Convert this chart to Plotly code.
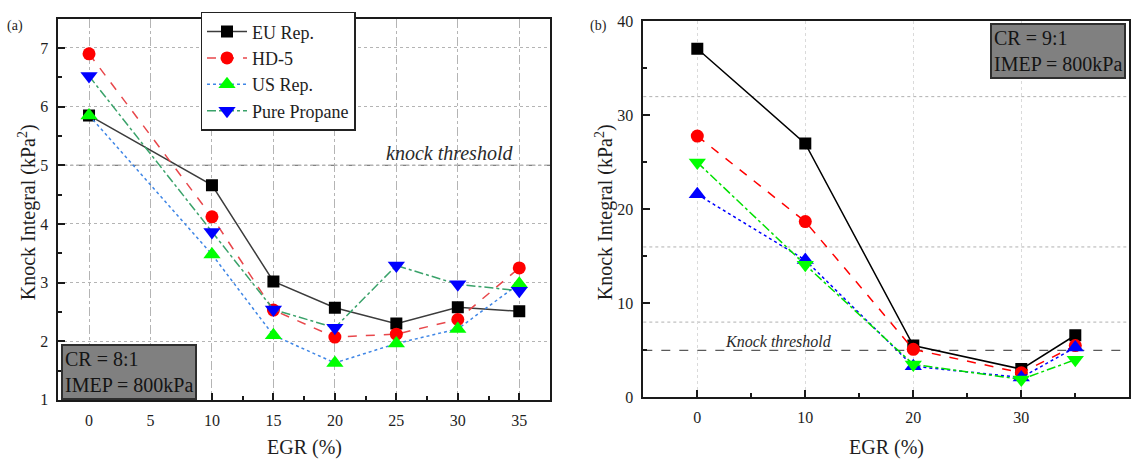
import plotly.graph_objects as go

# ---- data -------------------------------------------------------------
egr_a = [0, 10, 15, 20, 25, 30, 35]
eu_rep_a = [5.85, 4.66, 3.02, 2.57, 2.30, 2.58, 2.51]
hd5_a = [6.90, 4.12, 2.53, 2.07, 2.12, 2.37, 3.25]
us_rep_a = [5.85, 3.48, 2.10, 1.63, 1.96, 2.21, 2.98]
propane_a = [6.52, 3.86, 2.54, 2.23, 3.29, 2.97, 2.86]

egr_b = [0, 10, 20, 30, 35]
eu_rep_b = [37.1, 27.0, 5.5, 3.0, 6.6]
hd5_b = [27.8, 18.7, 5.1, 2.6, 5.5]
us_rep_b = [21.6, 14.6, 3.3, 2.1, 5.3]
propane_b = [25.0, 14.1, 3.5, 1.9, 4.0]

series_names = ["EU Rep.", "HD-5", "US Rep.", "Pure Propane"]
knock_threshold = 5

x_ticks_a = [0, 5, 10, 15, 20, 25, 30, 35]
y_ticks_a = [1, 2, 3, 4, 5, 6, 7]
x_ticks_b = [0, 10, 20, 30, 40]
y_ticks_b = [0, 10, 20, 30, 40]

# ---- styling ----------------------------------------------------------
W, H = 1137, 466
FONT = "'Liberation Serif', 'Times New Roman', Times, serif"
TXT = "#1e1e1e"


def px(x):
    return x / W


def py(y):
    return 1 - y / H


fig = go.Figure()

# panel (a)
style_a = [
    dict(line=dict(color="#3c3c3c", width=1.5, dash="solid"),
         marker=dict(symbol="square", size=12, color="#000000")),
    dict(line=dict(color="#e8474b", width=1.5, dash="dash"),
         marker=dict(symbol="circle", size=13, color="#ff0000")),
    dict(line=dict(color="#3f86e6", width=1.5, dash="dot"),
         marker=dict(symbol="triangle-up", size=15, color="#00ff00")),
    dict(line=dict(color="#3aa26a", width=1.5, dash="dashdot"),
         marker=dict(symbol="triangle-down", size=15, color="#0000ff")),
]
for name, ys, st in zip(series_names, [eu_rep_a, hd5_a, us_rep_a, propane_a], style_a):
    fig.add_trace(go.Scatter(x=egr_a, y=ys, name=name, mode="lines+markers",
                             xaxis="x", yaxis="y", **st))

# panel (b)
style_b = [
    dict(line=dict(color="#000000", width=1.5, dash="solid"),
         marker=dict(symbol="square", size=12, color="#000000")),
    dict(line=dict(color="#ff0000", width=1.5, dash="dash"),
         marker=dict(symbol="circle", size=13, color="#ff0000")),
    dict(line=dict(color="#0000ff", width=1.5, dash="dot"),
         marker=dict(symbol="triangle-up", size=15, color="#0000ff")),
    dict(line=dict(color="#00e000", width=1.5, dash="dashdot"),
         marker=dict(symbol="triangle-down", size=15, color="#00ff00")),
]
for name, ys, st in zip(series_names, [eu_rep_b, hd5_b, us_rep_b, propane_b], style_b):
    fig.add_trace(go.Scatter(x=egr_b, y=ys, name=name, mode="lines+markers",
                             xaxis="x2", yaxis="y2", showlegend=False, **st))

axis_common = dict(
    showline=True, mirror=True, linecolor="#1a1a1a", linewidth=1.6,
    ticks="inside", ticklen=7, tickwidth=1.5, tickcolor="#1a1a1a",
    tickfont=dict(family=FONT, size=16, color=TXT),
    zeroline=False, ticklabelstandoff=5,
)

fig.update_layout(
    width=W, height=H,
    margin=dict(l=0, r=0, t=0, b=0),
    paper_bgcolor="white", plot_bgcolor="white",
    font=dict(family=FONT, color=TXT),
    xaxis=dict(domain=[px(58.3), px(550)], range=[-2.5, 37.5],
               tickvals=x_ticks_a, anchor="y",
               showgrid=True, gridcolor="#b4b4b4", gridwidth=1, griddash="dashdot",
               minor=dict(ticks="inside", ticklen=4, dtick=2.5, tick0=0,
                          tickcolor="#1a1a1a", showgrid=False),
               **axis_common),
    yaxis=dict(domain=[py(406.7), py(11)], range=[1, 7.5],
               tickvals=y_ticks_a, anchor="x",
               showgrid=True, gridcolor="#b4b4b4", gridwidth=1, griddash="dot",
               minor=dict(ticks="inside", ticklen=4, dtick=0.5, tick0=1,
                          tickcolor="#1a1a1a", showgrid=False),
               **axis_common),
    xaxis2=dict(domain=[px(643.3), px(1129.3)], range=[-5, 40],
                tickvals=x_ticks_b, anchor="y2",
                showgrid=True, gridcolor="#dadada", gridwidth=1, griddash="dot",
                minor=dict(ticks="inside", ticklen=4, dtick=5, tick0=0,
                           tickcolor="#1a1a1a", showgrid=False),
                **axis_common),
    yaxis2=dict(domain=[py(404), py(14)], range=[0, 40],
                tickvals=y_ticks_b, anchor="x2", showgrid=False,
                minor=dict(ticks="inside", ticklen=4, dtick=5, tick0=0,
                           tickcolor="#1a1a1a", showgrid=False),
                **axis_common),
    legend=dict(x=px(200.5), y=py(4), xanchor="left", yanchor="top",
                bgcolor="white", bordercolor="#222222", borderwidth=1.5,
                font=dict(family=FONT, size=18, color=TXT),
                tracegroupgap=0, itemwidth=40),
    showlegend=True,
)

# threshold and reference lines
fig.add_shape(type="line", xref="x domain", yref="y", x0=0, x1=1,
              y0=knock_threshold, y1=knock_threshold,
              line=dict(color="#5a5a5a", width=1.2, dash="dashdot"), layer="below")
for gy in [8, 16, 32]:
    fig.add_shape(type="line", xref="x2 domain", yref="y2", x0=0, x1=1, y0=gy, y1=gy,
                  line=dict(color="#b0b0b0", width=1, dash="dot"), layer="below")
fig.add_shape(type="line", xref="x2 domain", yref="y2", x0=0, x1=1,
              y0=knock_threshold, y1=knock_threshold,
              line=dict(color="#5a5a5a", width=1.2, dash="dash"), layer="below")

annotations = [
    # panel labels
    dict(text="(a)", x=px(15), y=py(19), font=dict(size=14)),
    dict(text="(b)", x=px(598), y=py(19), font=dict(size=14)),
    # axis titles
    dict(text="Knock Integral (kPa<sup>2</sup>)", x=px(27), y=py(212),
         textangle=-90, font=dict(size=20)),
    dict(text="Knock Integral (kPa<sup>2</sup>)", x=px(604), y=py(212),
         textangle=-90, font=dict(size=20)),
    dict(text="EGR (%)", x=px(304), y=py(456), font=dict(size=20)),
    dict(text="EGR (%)", x=px(886), y=py(456), font=dict(size=20)),
    # threshold labels
    dict(text="<i>knock threshold</i>", x=px(515), y=py(151), xanchor="right",
         font=dict(size=20, color="#2a2a2a")),
    dict(text="<i>Knock threshold</i>", x=px(778), y=py(346),
         font=dict(size=16, color="#2a2a2a")),
    # condition boxes
    dict(text="CR = 8:1<br>IMEP = 800kPa", x=px(61), y=py(406.5),
         xanchor="left", yanchor="bottom", align="left",
         bgcolor="#808080", bordercolor="#2e2e2e", borderwidth=2, borderpad=2,
         font=dict(size=20, color="#141414")),
    dict(text="CR = 9:1<br>IMEP = 800kPa", x=px(1126), y=py(16),
         xanchor="right", yanchor="top", align="left",
         bgcolor="#808080", bordercolor="#2e2e2e", borderwidth=2, borderpad=2,
         font=dict(size=20, color="#141414")),
]
for a in annotations:
    base = dict(xref="paper", yref="paper", showarrow=False,
                xanchor="center", yanchor="middle")
    base.update(a)
    f = dict(family=FONT, color=TXT)
    f.update(a.get("font", {}))
    base["font"] = f
    fig.add_annotation(**base)

fig.write_html("out.html")
